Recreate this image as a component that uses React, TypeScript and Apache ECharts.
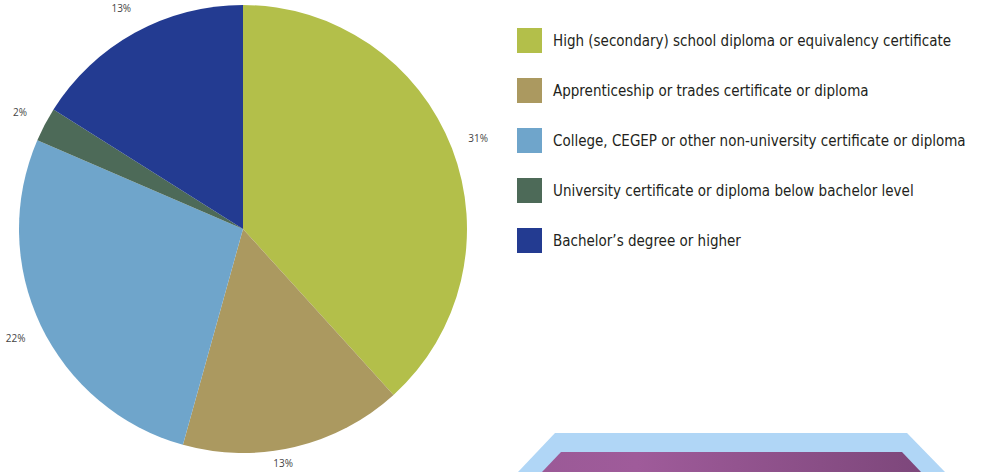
import React, { useEffect, useRef } from "react";
import * as echarts from "echarts";

const categories = [
  "High (secondary) school diploma or equivalency certificate",
  "Apprenticeship or trades certificate or diploma",
  "College, CEGEP or other non-university certificate or diploma",
  "University certificate or diploma below bachelor level",
  "Bachelor\u2019s degree or higher",
];
const percentValues = [31, 13, 22, 2, 13];
const sliceColors = ["#b3bf4a", "#ab9960", "#6fa5cb", "#4d6a58", "#233b91"];

export default function App() {
  const ref = useRef<HTMLDivElement>(null);
  useEffect(() => {
    if (!ref.current) return;
    const chart = echarts.init(ref.current, null, { renderer: "svg" });
    const data = categories.map((name, i) => ({
      name,
      value: percentValues[i],
      itemStyle: { color: sliceColors[i] },
    }));
    const labelData = categories.map((name, i) => ({
      name,
      value: percentValues[i],
      label: i === 1 ? { offset: [-18, -11] } : undefined,
    }));
    chart.setOption({
      animation: false,
      legend: {
        orient: "vertical",
        left: 517,
        top: 28,
        padding: 0,
        itemWidth: 25,
        itemHeight: 25,
        itemGap: 25,
        icon: "rect",
        data: categories,
        selectedMode: false,
        textStyle: {
          fontFamily: "'Liberation Sans Narrow', 'DejaVu Sans Condensed', Roboto, sans-serif",
          fontSize: 15,
          color: "#231f20",
          padding: [0, 0, 0, 6],
        },
      },
      series: [
        {
          type: "pie",
          center: [243, 229],
          radius: 224,
          startAngle: 90,
          clockwise: true,
          data,
          label: { show: false },
          labelLine: { show: false },
          silent: true,
        },
        {
          type: "pie",
          center: [243, 229],
          radius: [240, 258],
          startAngle: 90,
          clockwise: true,
          data: labelData,
          itemStyle: { color: "rgba(0,0,0,0)" },
          label: {
            show: true,
            position: "inside",
            formatter: "{c}%",
            fontFamily: "'Open Sans', sans-serif",
            fontSize: 10,
            color: "#444444",
          },
          labelLine: { show: false },
          silent: true,
        },
      ],
      graphic: [
        {
          type: "polygon",
          shape: {
            points: [
              [518, 472],
              [555, 433],
              [907, 433],
              [945, 472],
            ],
          },
          style: { fill: "#b0d6f6" },
        },
        {
          type: "polygon",
          shape: {
            points: [
              [542, 472],
              [561, 452],
              [902, 452],
              [921, 472],
            ],
          },
          style: {
            fill: new echarts.graphic.LinearGradient(0, 0, 1, 0, [
              { offset: 0, color: "#9b5a97" },
              { offset: 0.25, color: "#9f5b9a" },
              { offset: 1, color: "#7d477b" },
            ]),
          },
        },
      ],
    });
    return () => chart.dispose();
  }, []);
  return (
    <div
      ref={ref}
      style={{ position: "absolute", left: 0, top: 0, width: 987, height: 472, background: "#fff" }}
    />
  );
}
